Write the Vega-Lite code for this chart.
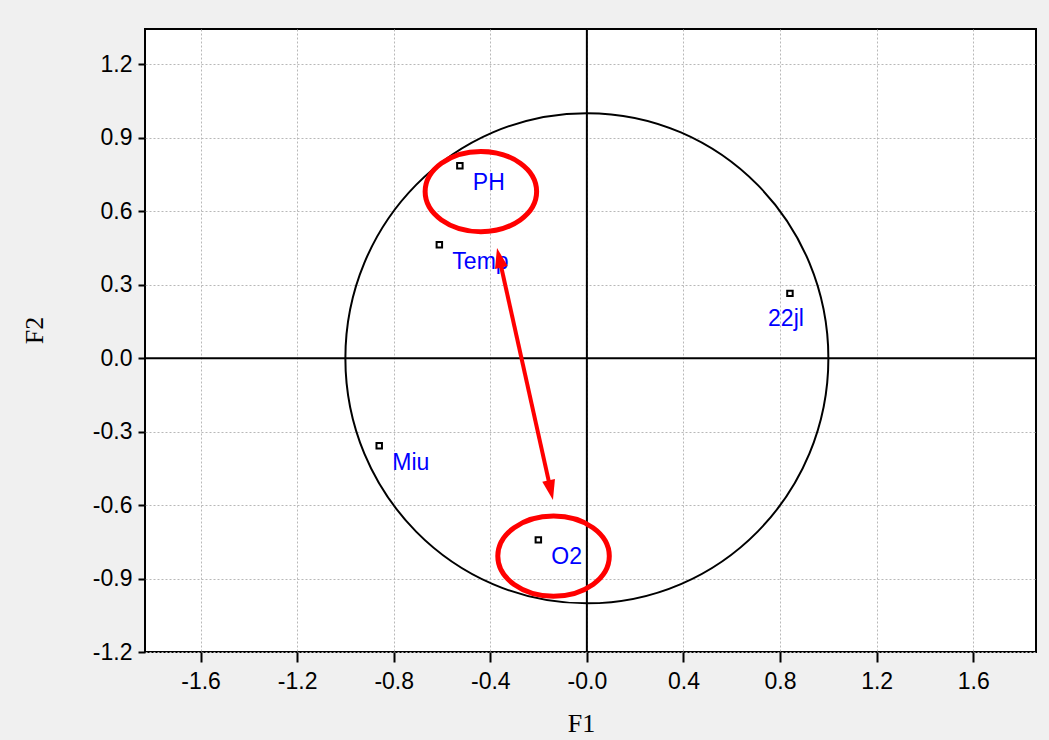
{
  "$schema": "https://vega.github.io/schema/vega-lite/v6.json",
  "width": 891,
  "height": 623,
  "autosize": {"type": "none"},
  "padding": {"left": 145, "top": 29, "right": 13, "bottom": 88},
  "background": "#f0f0f0",
  "config": {
    "view": {"fill": "white", "stroke": "black", "strokeWidth": 2},
    "axis": {
      "domain": false,
      "grid": true,
      "gridColor": "#b8b8b8",
      "gridDash": [2, 2],
      "gridWidth": 1,
      "tickColor": "black",
      "tickWidth": 2,
      "labelFont": "Liberation Sans",
      "labelFontSize": 23,
      "labelColor": "black",
      "labelFlush": false,
      "labelOverlap": false,
      "titleFont": "Liberation Serif",
      "titleFontSize": 26,
      "titleFontWeight": "normal",
      "titleColor": "black"
    }
  },
  "datasets": {
    "vars": [
      {"label": "PH", "x": -0.526, "y": 0.786},
      {"label": "Temp", "x": -0.611, "y": 0.464},
      {"label": "22jl", "x": 0.841, "y": 0.265},
      {"label": "Miu", "x": -0.86, "y": -0.357},
      {"label": "O2", "x": -0.201, "y": -0.742}
    ],
    "origin": [{"x": 0, "y": 0}],
    "highlights": [
      {"target": "PH", "x": -0.439, "y": 0.681},
      {"target": "O2", "x": -0.138, "y": -0.808}
    ],
    "arrow": [{"x": -0.3632, "y": 0.4105, "x2": -0.1495, "y2": -0.5388}],
    "arrowheads": [
      {"end": "top", "x": -0.3632, "y": 0.4105},
      {"end": "bottom", "x": -0.1495, "y": -0.5388}
    ]
  },
  "layer": [
    {
      "data": {"name": "origin"},
      "mark": {
        "type": "point",
        "shape": "M1,0C1,0.5606 0.5523,1.015 0,1.015C-0.5523,1.015 -1,0.5606 -1,0C-1,-0.5606 -0.5523,-1.015 0,-1.015C0.5523,-1.015 1,-0.5606 1,0Z",
        "size": 233289,
        "filled": false,
        "stroke": "black",
        "strokeWidth": 2,
        "opacity": 1
      },
      "encoding": {
        "x": {
          "field": "x",
          "type": "quantitative",
          "scale": {"domain": [-1.83, 1.86], "nice": false, "zero": false},
          "axis": {
            "title": "F1",
            "values": [-1.6, -1.2, -0.8, -0.4, 0, 0.4, 0.8, 1.2, 1.6],
            "labelExpr": "datum.value == 0 ? '-0.0' : (datum.value < 0 ? '-' : '') + format(abs(datum.value), '.1f')",
            "tickSize": 10,
            "labelPadding": 8,
            "titleX": 436,
            "titleY": 79,
            "titleBaseline": "alphabetic"
          }
        },
        "y": {
          "field": "y",
          "type": "quantitative",
          "scale": {"domain": [-1.2, 1.345], "nice": false, "zero": false},
          "axis": {
            "title": "F2",
            "values": [-1.2, -0.9, -0.6, -0.3, 0, 0.3, 0.6, 0.9, 1.2],
            "labelExpr": "(datum.value < 0 ? '-' : '') + format(abs(datum.value), '.1f')",
            "tickSize": 7,
            "labelPadding": 6,
            "titleX": -103,
            "titleY": 301,
            "titleAngle": -90,
            "titleAlign": "center",
            "titleBaseline": "alphabetic"
          }
        }
      }
    },
    {
      "data": {"name": "origin"},
      "mark": {"type": "rule", "color": "black", "strokeWidth": 2},
      "encoding": {"x": {"field": "x", "type": "quantitative"}}
    },
    {
      "data": {"name": "origin"},
      "mark": {"type": "rule", "color": "black", "strokeWidth": 2},
      "encoding": {"y": {"field": "y", "type": "quantitative"}}
    },
    {
      "data": {"name": "vars"},
      "mark": {"type": "point", "shape": "square", "size": 30, "filled": false, "stroke": "black", "strokeWidth": 2, "opacity": 1},
      "encoding": {
        "x": {"field": "x", "type": "quantitative"},
        "y": {"field": "y", "type": "quantitative"}
      }
    },
    {
      "data": {"name": "vars"},
      "transform": [{"filter": "datum.label != '22jl'"}],
      "mark": {"type": "text", "align": "left", "baseline": "alphabetic", "dx": 13, "dy": 24, "font": "Liberation Sans", "fontSize": 23, "color": "#0000ff"},
      "encoding": {
        "x": {"field": "x", "type": "quantitative"},
        "y": {"field": "y", "type": "quantitative"},
        "text": {"field": "label"}
      }
    },
    {
      "data": {"name": "vars"},
      "transform": [{"filter": "datum.label == '22jl'"}],
      "mark": {"type": "text", "align": "center", "baseline": "alphabetic", "dx": -4, "dy": 33, "font": "Liberation Sans", "fontSize": 23, "color": "#0000ff"},
      "encoding": {
        "x": {"field": "x", "type": "quantitative"},
        "y": {"field": "y", "type": "quantitative"},
        "text": {"field": "label"}
      }
    },
    {
      "data": {"name": "highlights"},
      "mark": {
        "type": "point",
        "shape": "M1,0C1,0.3977 0.5523,0.72 0,0.72C-0.5523,0.72 -1,0.3977 -1,0C-1,-0.3977 -0.5523,-0.72 0,-0.72C0.5523,-0.72 1,-0.3977 1,0Z",
        "size": 12432,
        "filled": false,
        "stroke": "#ff0000",
        "strokeWidth": 5,
        "opacity": 1
      },
      "encoding": {
        "x": {"field": "x", "type": "quantitative"},
        "y": {"field": "y", "type": "quantitative"}
      }
    },
    {
      "data": {"name": "arrow"},
      "mark": {"type": "rule", "color": "#ff0000", "strokeWidth": 4},
      "encoding": {
        "x": {"field": "x", "type": "quantitative"},
        "y": {"field": "y", "type": "quantitative"},
        "x2": {"field": "x2"},
        "y2": {"field": "y2"}
      }
    },
    {
      "data": {"name": "arrowheads"},
      "transform": [{"filter": "datum.end == 'top'"}],
      "mark": {"type": "point", "shape": "M0,-1L0.65,1L-0.65,1Z", "size": 400, "filled": true, "color": "#ff0000", "strokeWidth": 0, "opacity": 1, "angle": 347.5},
      "encoding": {
        "x": {"field": "x", "type": "quantitative"},
        "y": {"field": "y", "type": "quantitative"}
      }
    },
    {
      "data": {"name": "arrowheads"},
      "transform": [{"filter": "datum.end == 'bottom'"}],
      "mark": {"type": "point", "shape": "M0,-1L0.65,1L-0.65,1Z", "size": 400, "filled": true, "color": "#ff0000", "strokeWidth": 0, "opacity": 1, "angle": 167.5},
      "encoding": {
        "x": {"field": "x", "type": "quantitative"},
        "y": {"field": "y", "type": "quantitative"}
      }
    }
  ]
}
